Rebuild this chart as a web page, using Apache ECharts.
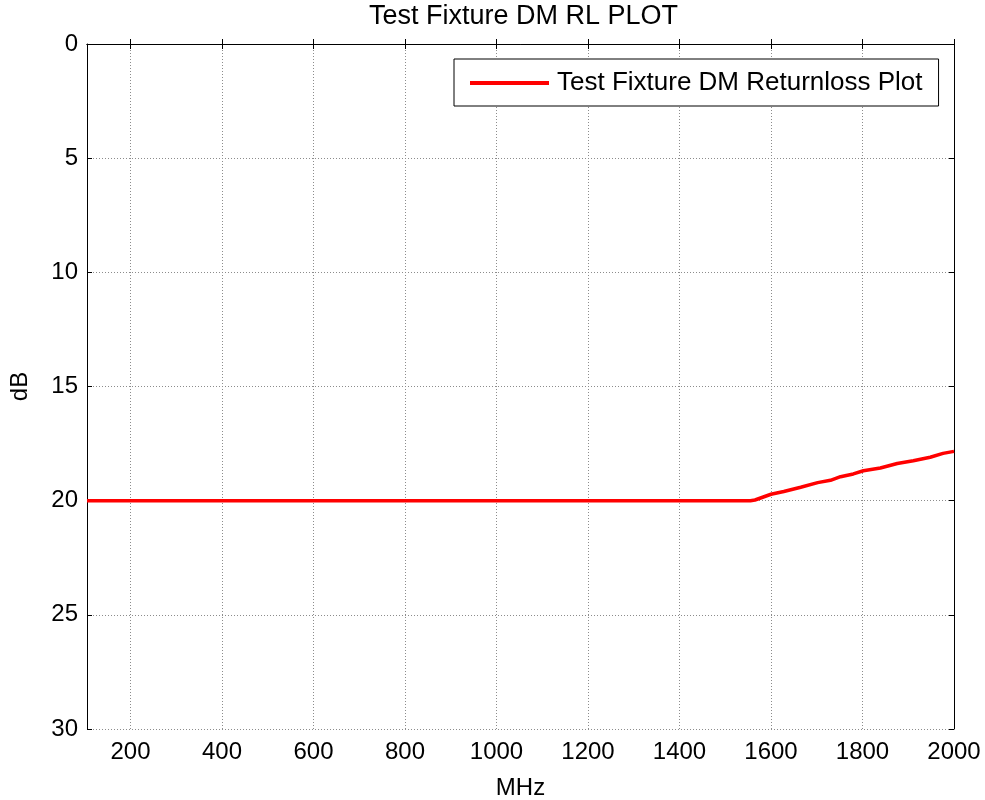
<!DOCTYPE html>
<html>
<head>
    <meta charset="utf-8">
    <title>Test Fixture DM RL PLOT</title>
    <script src="https://cdn.jsdelivr.net/npm/echarts@6/dist/echarts.min.js"></script>
    <style>
        html, body { margin: 0; padding: 0; background: #fff; }
        #chart { width: 985px; height: 800px; }
    </style>
</head>
<body>
<div id="chart"></div>
<script type="text/javascript">
    // 数据
    var freqMHz = [105, 1555, 1565, 1600, 1628, 1665, 1702, 1730, 1752, 1780, 1802, 1839, 1876, 1911, 1948, 1976, 2000];
    var returnLossDb = [20, 20, 19.97, 19.72, 19.6, 19.41, 19.21, 19.11, 18.95, 18.83, 18.69, 18.57, 18.37, 18.25, 18.1, 17.93, 17.84];
    var xTicks = [200, 400, 600, 800, 1000, 1200, 1400, 1600, 1800, 2000];
    var yTicks = [0, 5, 10, 15, 20, 25, 30];

    var points = freqMHz.map(function (f, i) { return [f, returnLossDb[i]]; });

    var font = '"Liberation Sans", Arial, sans-serif';
    var plain = function (v) { return String(v); };
    var myChart = echarts.init(document.getElementById('chart'), null, {renderer: 'canvas'});

    myChart.setOption({
        animation: false,
        backgroundColor: '#fff',
        title: {
            text: 'Test Fixture DM RL PLOT',
            left: 369,
            top: 3,
            padding: 0,
            textStyle: {fontFamily: font, fontSize: 27, fontWeight: 'normal', color: '#000'}
        },
        legend: {
            data: ['Test Fixture DM Returnloss Plot'],
            left: 454,
            top: 59,
            padding: [11, 16, 10, 16],
            borderColor: '#000',
            borderWidth: 1,
            backgroundColor: '#fff',
            icon: 'rect',
            itemWidth: 79,
            itemHeight: 4,
            itemGap: 8,
            textStyle: {fontFamily: font, fontSize: 26, color: '#000', padding: [0, 0, 0, 3]}
        },
        grid: {
            left: 87,
            right: 31,
            top: 44,
            bottom: 71,
            containLabel: false,
            outerBoundsMode: 'none'
        },
        xAxis: [
            {
                type: 'value',
                min: 105,
                max: 2000,
                name: 'MHz',
                nameLocation: 'middle',
                nameGap: 47,
                nameTextStyle: {fontFamily: font, fontSize: 24, color: '#000'},
                axisLine: {lineStyle: {color: '#000', width: 1}},
                axisTick: {inside: true, length: 5, customValues: xTicks, lineStyle: {color: '#000'}},
                axisLabel: {customValues: xTicks, formatter: plain, margin: 11, fontFamily: font, fontSize: 24, color: '#000'},
                splitLine: {show: true, lineStyle: {color: '#8c8c8c', type: [1, 2], width: 1}}
            },
            {
                type: 'value',
                position: 'top',
                min: 105,
                max: 2000,
                axisLine: {show: true, lineStyle: {color: '#000', width: 1}},
                axisTick: {inside: true, length: 5, customValues: xTicks, lineStyle: {color: '#000'}},
                axisLabel: {show: false},
                splitLine: {show: false}
            }
        ],
        yAxis: [
            {
                type: 'value',
                inverse: true,
                min: 0,
                max: 30,
                interval: 5,
                name: 'dB',
                nameLocation: 'middle',
                nameGap: 55,
                nameTextStyle: {fontFamily: font, fontSize: 24, color: '#000'},
                axisLine: {show: true, lineStyle: {color: '#000', width: 1}},
                axisTick: {show: true, inside: true, length: 5, customValues: yTicks, lineStyle: {color: '#000'}},
                axisLabel: {customValues: yTicks, formatter: plain, margin: 9, fontFamily: font, fontSize: 24, color: '#000'},
                splitLine: {show: true, lineStyle: {color: '#8c8c8c', type: [1, 2], width: 1}}
            },
            {
                type: 'value',
                position: 'right',
                inverse: true,
                min: 0,
                max: 30,
                interval: 5,
                axisLine: {show: true, lineStyle: {color: '#000', width: 1}},
                axisTick: {show: true, inside: true, length: 5, lineStyle: {color: '#000'}},
                axisLabel: {show: false},
                splitLine: {show: false}
            }
        ],
        series: [
            {
                name: 'Test Fixture DM Returnloss Plot',
                type: 'line',
                data: points,
                xAxisIndex: 0,
                yAxisIndex: 0,
                showSymbol: false,
                symbol: 'none',
                lineStyle: {color: '#ff0000', width: 3.5},
                itemStyle: {color: '#ff0000'}
            }
        ]
    });
</script>
</body>
</html>
